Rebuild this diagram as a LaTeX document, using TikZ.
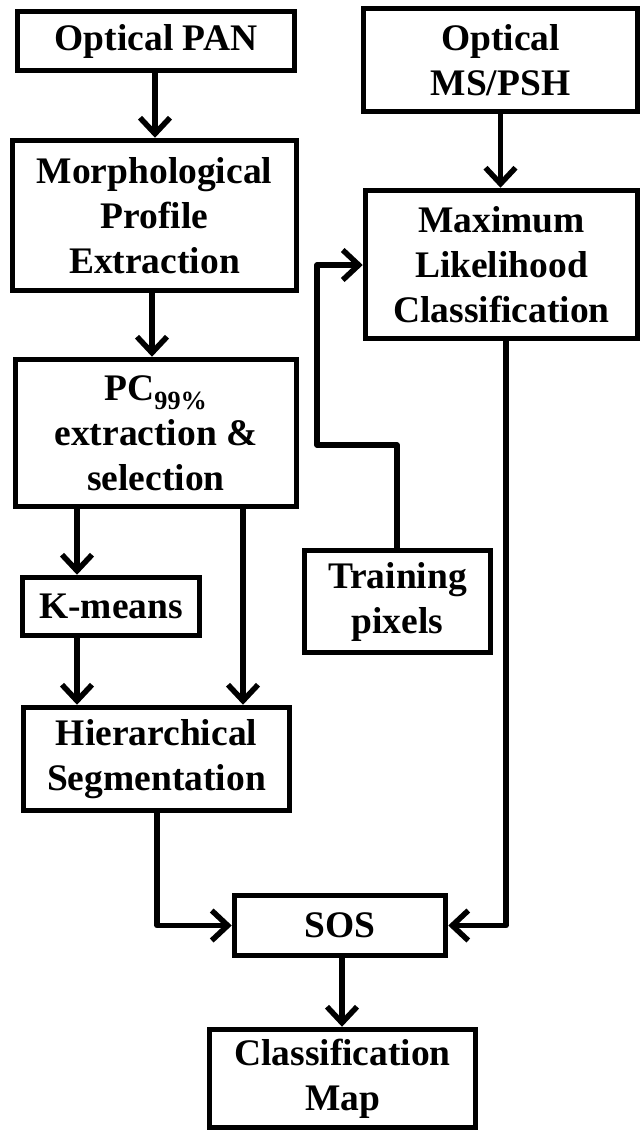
\documentclass[tikz,border=0pt]{standalone}
\usepackage{fontspec}
\setmainfont{Liberation Serif}
\usetikzlibrary{arrows.meta}
\begin{document}
\begin{tikzpicture}[x=1pt,y=-1pt,
  box/.style={draw, line width=5.5pt, align=center, inner sep=0pt,
    font=\bfseries\fontsize{37.5}{45}\selectfont},
  arr/.style={line width=5.5pt, line join=round,
    -{Straight Barb[length=16pt,width=30pt]}}]
\useasboundingbox (0,0) rectangle (642,1133);
\node[box, minimum width=277pt, minimum height=59pt] (pan) at (156,41) {Optical PAN};
\node[box, minimum width=284pt, minimum height=150pt] (morph) at (154.5,215.5) {Morphological\\Profile\\Extraction};
\node[box, minimum width=274pt, minimum height=103pt] (ms) at (500.5,60) {Optical\\MS/PSH};
\node[box, minimum width=272pt, minimum height=148pt] (ml) at (501.5,264.5) {Maximum\\Likelihood\\Classification};
\node[box, minimum width=281pt, minimum height=147pt] (pc) at (156,433) {PC\textsubscript{99\%}\\extraction \&\\selection};
\node[box, minimum width=177pt, minimum height=58pt] (km) at (111,606.5) {K-means};
\node[box, minimum width=186pt, minimum height=102pt] (tr) at (397.5,601.5) {Training\\pixels};
\node[box, minimum width=266pt, minimum height=103pt] (hs) at (156.5,759) {Hierarchical\\Segmentation};
\node[box, minimum width=211pt, minimum height=60pt] (sos) at (340,925.5) {SOS};
\node[box, minimum width=266pt, minimum height=98pt] (cm) at (342.5,1078.5) {Classification\\Map};
% connectors
\draw[arr] ([xshift=-1pt]pan.south) -- ([xshift=0.5pt]morph.north);
\draw[arr] (ms.south) -- (ms.south |- ml.north);
\coordinate (a1) at ([xshift=-2.5pt]morph.south);
\draw[arr] (a1) -- (a1 |- pc.north);
\coordinate (a2) at ([xshift=-79pt]pc.south);
\draw[arr] (a2) -- (a2 |- km.north);
\coordinate (a3) at ([xshift=87pt]pc.south);
\draw[arr] (a3) -- (a3 |- hs.north);
\coordinate (a4) at (a2 |- km.south);
\draw[arr] (a4) -- (a4 |- hs.north);
\coordinate (t1) at ([xshift=-0.5pt]tr.north);
\coordinate (t2) at (317,445);
\coordinate (t3) at (317,265);
\draw[arr] (t1) -- (t1 |- t2) -- (t2) -- (t3) -- (t3 -| ml.west);
\coordinate (h1) at ([xshift=0.5pt]hs.south);
\draw[arr] (h1) -- (h1 |- sos.west) -- (sos.west);
\coordinate (m1) at ([xshift=4.5pt]ml.south);
\draw[arr] (m1) -- (m1 |- sos.east) -- (sos.east);
\draw[arr] ([xshift=2pt]sos.south) -- ([xshift=-0.5pt]cm.north);
\end{tikzpicture}
\end{document}
